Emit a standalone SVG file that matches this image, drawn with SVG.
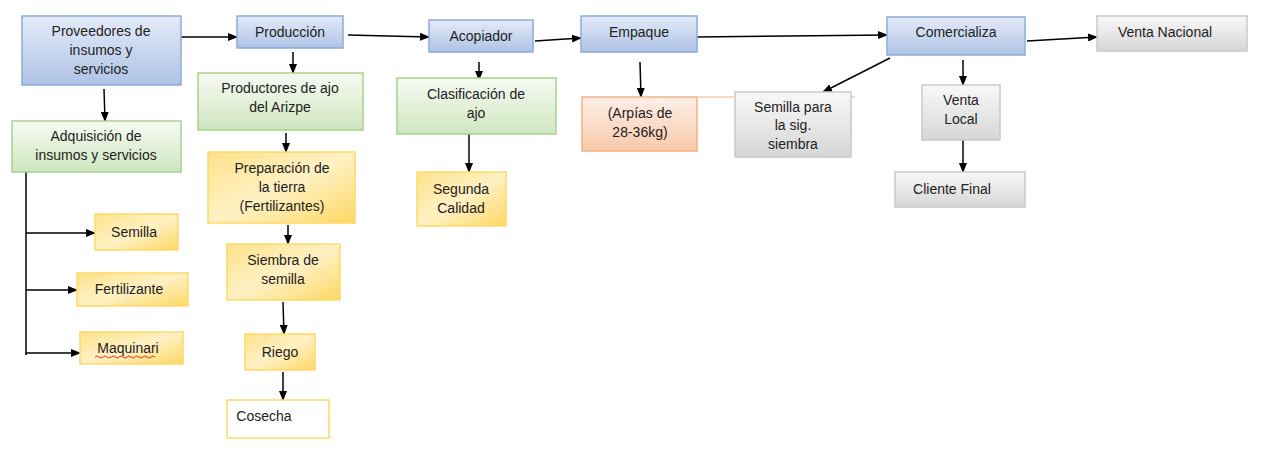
<svg xmlns="http://www.w3.org/2000/svg" width="1270" height="450" viewBox="0 0 1270 450">
<defs>
<linearGradient id="gb" x1="0" y1="0" x2="0" y2="1"><stop offset="0" stop-color="#e4ebf8"/><stop offset="1" stop-color="#aec3e6"/></linearGradient>
<linearGradient id="gg" x1="0" y1="0" x2="0" y2="1"><stop offset="0" stop-color="#f7fbf3"/><stop offset="1" stop-color="#cfe6bf"/></linearGradient>
<linearGradient id="gy" x1="0" y1="0" x2="1" y2="1"><stop offset="0" stop-color="#fde28a"/><stop offset="0.5" stop-color="#fff1c4"/><stop offset="1" stop-color="#fdd764"/></linearGradient>
<linearGradient id="go" x1="0" y1="0" x2="0" y2="1"><stop offset="0" stop-color="#fdf0e8"/><stop offset="1" stop-color="#f8c9a8"/></linearGradient>
<linearGradient id="gr" x1="0" y1="0" x2="0" y2="1"><stop offset="0" stop-color="#f9f9f9"/><stop offset="1" stop-color="#d6d6d6"/></linearGradient>
<marker id="a" markerWidth="10" markerHeight="8" refX="9" refY="4" orient="auto" markerUnits="userSpaceOnUse"><path d="M0,0 L10,4 L0,8 z" fill="#000"/></marker>
</defs>
<style>
text{font-family:"Liberation Sans",Arial,sans-serif;font-size:14px;fill:#222;text-anchor:middle}
.b{fill:url(#gb);stroke:#8eaadb;stroke-width:1.5}
.g{fill:url(#gg);stroke:#a9d18e;stroke-width:1.5}
.y{fill:url(#gy);stroke:#ffd966;stroke-width:1.5}
.w{fill:#fff;stroke:#ffd966;stroke-width:1.5}
.o{fill:url(#go);stroke:#f4b183;stroke-width:1.5}
.r{fill:url(#gr);stroke:#c9c9c9;stroke-width:1.5}
.c line,.c path{stroke:#000;stroke-width:1.5;fill:none}
.c .m{marker-end:url(#a)}
</style>
<rect width="1270" height="450" fill="#fff"/>
<g class="c">
<line class="m" x1="181" y1="37" x2="237" y2="37"/>
<line class="m" x1="348" y1="35" x2="429" y2="37"/>
<line class="m" x1="535" y1="41" x2="581" y2="38"/>
<line class="m" x1="697" y1="37" x2="887" y2="35"/>
<line class="m" x1="1027" y1="41" x2="1097" y2="37"/>
<line class="m" x1="293" y1="52" x2="293" y2="73"/>
<line class="m" x1="104" y1="89" x2="105" y2="121"/>
<line class="m" x1="479" y1="62" x2="479" y2="80"/>
<line class="m" x1="640" y1="62" x2="641" y2="97"/>
<line class="m" x1="890" y1="58" x2="823" y2="92"/>
<line class="m" x1="963" y1="60" x2="963" y2="85"/>
<line class="m" x1="963" y1="140" x2="963" y2="172"/>
<line class="m" x1="286" y1="133" x2="286" y2="152"/>
<line class="m" x1="469" y1="134" x2="469" y2="172"/>
<line class="m" x1="288" y1="225" x2="288" y2="244"/>
<line class="m" x1="283" y1="302" x2="284" y2="334"/>
<line class="m" x1="283" y1="372" x2="283" y2="400"/>
<path d="M26,172 V355"/>
<line class="m" x1="26" y1="233" x2="95" y2="233"/>
<line class="m" x1="26" y1="290" x2="77" y2="290"/>
<line class="m" x1="26" y1="353" x2="80" y2="353"/>
<line x1="697" y1="97" x2="855" y2="97" style="stroke:#f4b183;stroke-width:1"/>
</g>
<g id="proveedores"><rect class="b" x="22" y="16" width="159" height="69"/><text x="101" y="36">Proveedores de</text><text x="101" y="55">insumos y</text><text x="101" y="74">servicios</text></g>
<g id="produccion"><rect class="b" x="237" y="16" width="106" height="32"/><text x="290" y="37">Producción</text></g>
<g id="acopiador"><rect class="b" x="429" y="20" width="104" height="32"/><text x="481" y="41">Acopiador</text></g>
<g id="empaque"><rect class="b" x="581" y="16" width="116" height="36"/><text x="639" y="37">Empaque</text></g>
<g id="comercializa"><rect class="b" x="887" y="17" width="138" height="38"/><text x="956" y="37">Comercializa</text></g>
<g id="ventanacional"><rect class="r" x="1097" y="16" width="150" height="35"/><text x="1165" y="37">Venta Nacional</text></g>
<g id="productores"><rect class="g" x="198" y="73" width="165" height="57"/><text x="280" y="93">Productores de ajo</text><text x="280" y="112">del Arizpe</text></g>
<g id="adquisicion"><rect class="g" x="12" y="121" width="169" height="51"/><text x="96" y="141">Adquisición de</text><text x="96" y="160">insumos y servicios</text></g>
<g id="clasificacion"><rect class="g" x="397" y="78" width="159" height="56"/><text x="476" y="99">Clasificación de</text><text x="476" y="118">ajo</text></g>
<g id="preparacion"><rect class="y" x="208" y="152" width="147" height="71"/><text x="282" y="173">Preparación de</text><text x="282" y="192">la tierra</text><text x="282" y="211">(Fertilizantes)</text></g>
<g id="segunda"><rect class="y" x="417" y="172" width="89" height="54"/><text x="461" y="194">Segunda</text><text x="461" y="213">Calidad</text></g>
<g id="siembra"><rect class="y" x="227" y="244" width="113" height="56"/><text x="283" y="265">Siembra de</text><text x="283" y="284">semilla</text></g>
<g id="riego"><rect class="y" x="245" y="334" width="70" height="36"/><text x="280" y="357">Riego</text></g>
<g id="cosecha"><rect class="w" x="227" y="400" width="102" height="38"/><text x="264" y="421">Cosecha</text></g>
<g id="semilla"><rect class="y" x="95" y="214" width="83" height="36"/><text x="134" y="237">Semilla</text></g>
<g id="fertilizante"><rect class="y" x="77" y="273" width="111" height="33"/><text x="129" y="294">Fertilizante</text></g>
<g id="maquinari"><rect class="y" x="80" y="332" width="103" height="32"/><text x="128" y="353">Maquinari</text><path d="M95,357 q2,-2 4,0 t4,0 t4,0 t4,0 t4,0 t4,0 t4,0 t4,0 t4,0 t4,0 t4,0 t4,0 t4,0 t4,0 t4,0" fill="none" stroke="#e03030" stroke-width="1"/></g>
<g id="arpias"><rect class="o" x="582" y="97" width="115" height="54"/><text x="640" y="118">(Arpías de</text><text x="640" y="137">28-36kg)</text></g>
<g id="semillapara"><rect class="r" x="735" y="92" width="116" height="65"/><text x="793" y="112">Semilla para</text><text x="793" y="130">la sig.</text><text x="793" y="149">siembra</text></g>
<g id="ventalocal"><rect class="r" x="922" y="85" width="78" height="55"/><text x="961" y="105">Venta</text><text x="961" y="124">Local</text></g>
<g id="clientefinal"><rect class="r" x="895" y="172" width="130" height="35"/><text x="952" y="194">Cliente Final</text></g>
</svg>
